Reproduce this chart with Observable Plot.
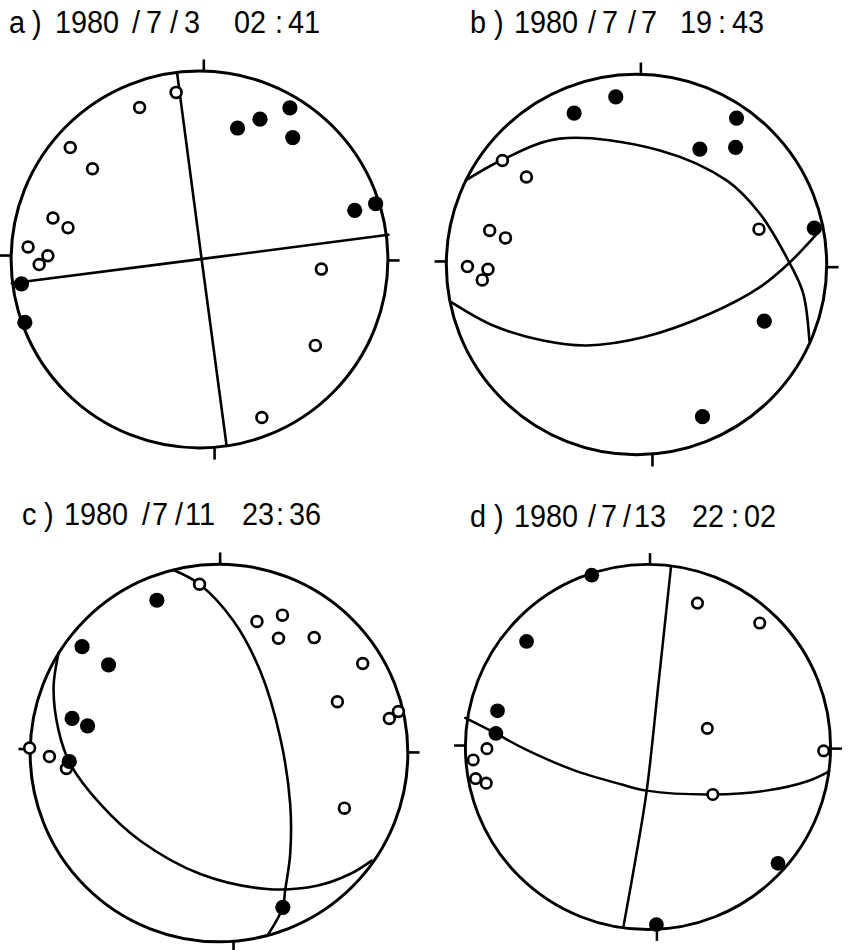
<!DOCTYPE html>
<html>
<head>
<meta charset="utf-8">
<script src="https://cdn.jsdelivr.net/npm/d3@7"></script>
<script src="https://cdn.jsdelivr.net/npm/@observablehq/plot@0.6"></script>
<style>
  html, body { margin: 0; padding: 0; background: #fff; }
  #page { position: relative; width: 852px; height: 950px; overflow: hidden; background: #fff; }
  .panel { position: absolute; }
  .title { position: absolute; left: 0; top: 0; width: 852px; height: 40px; font-family: "Liberation Sans", Arial, sans-serif; font-size: 31px; line-height: 31px; color: #000; }
  .title span { position: absolute; top: 0; white-space: pre; transform: scaleX(0.93); transform-origin: 0 0; }
</style>
</head>
<body>
<div id="page"></div>
<script>
// ---------- data (normalized to unit focal sphere; x east, y north) ----------
// Panel a) 1980/7/3 02:41
const aOpen = [[-0.124,0.887],[-0.318,0.807],[-0.686,0.594],[-0.568,0.482],[-0.778,0.220],[-0.698,0.169],[-0.910,0.066],[-0.805,0.020],[-0.851,-0.027],[0.647,-0.051],[0.615,-0.456],[0.331,-0.839]];
const aFilled = [[0.202,0.698],[0.321,0.745],[0.480,0.805],[0.495,0.647],[0.824,0.261],[0.935,0.296],[-0.945,-0.129],[-0.927,-0.334]];
const aPlane1 = [[-0.119,0.991],[0.011,0.004],[0.144,-0.989]];
const aPlane2 = [[-0.996,-0.126],[0.005,0.002],[1.003,0.131]];

// Panel b) 1980/7/7 19:43
const bOpen = [[-0.705,0.547],[-0.579,0.460],[-0.772,0.179],[-0.689,0.140],[-0.889,-0.011],[-0.781,-0.025],[-0.811,-0.081],[0.644,0.186]];
const bFilled = [[-0.328,0.796],[-0.109,0.881],[0.526,0.770],[0.333,0.607],[0.521,0.616],[0.935,0.191],[0.672,-0.298],[0.347,-0.800]];
const bPlane1 = [[-0.898,0.442],[-0.705,0.551],[-0.404,0.662],[0.123,0.600],[0.474,0.442],[0.649,0.267],[0.807,0.004],[0.877,-0.154],[0.909,-0.400]];
const bPlane2 = [[-0.974,-0.198],[-0.754,-0.321],[-0.491,-0.400],[-0.263,-0.426],[0.035,-0.383],[0.386,-0.259],[0.649,-0.119],[0.807,0.012],[0.965,0.179]];

// Panel c) 1980/7/11 23:36
const cOpen = [[-0.103,0.894],[0.201,0.696],[0.336,0.730],[0.315,0.608],[0.504,0.611],[0.761,0.474],[0.627,0.271],[0.902,0.183],[0.950,0.220],[-1.003,0.026],[-0.898,-0.019],[-0.808,-0.082],[0.664,-0.292]];
const cFilled = [[-0.329,0.809],[-0.725,0.563],[-0.585,0.467],[-0.778,0.183],[-0.696,0.144],[-0.793,-0.045],[0.338,-0.817]];
const cPlane1 = [[-0.241,0.969],[-0.103,0.894],[0.077,0.699],[0.218,0.435],[0.324,0.082],[0.377,-0.270],[0.377,-0.535],[0.350,-0.729],[0.338,-0.817],[0.262,-0.958]];
const cPlane2 = [[-0.849,0.532],[-0.876,0.347],[-0.849,0.117],[-0.787,-0.059],[-0.629,-0.270],[-0.417,-0.465],[-0.099,-0.641],[0.253,-0.720],[0.518,-0.703],[0.694,-0.641],[0.809,-0.570]];

// Panel d) 1980/7/13 22:02
const dOpen = [[0.271,0.788],[0.612,0.679],[0.325,0.102],[0.962,-0.021],[0.355,-0.260],[-0.882,-0.009],[-0.957,-0.071],[-0.944,-0.173],[-0.886,-0.198]];
const dFilled = [[-0.308,0.941],[-0.665,0.578],[-0.824,0.198],[-0.833,0.074],[0.712,-0.637],[0.046,-0.973]];
const dPlane1 = [[0.126,0.987],[0.060,0.371],[-0.007,-0.239],[-0.069,-0.619],[-0.134,-0.981]];
const dPlane2 = [[-1.001,0.159],[-0.833,0.074],[-0.679,-0.009],[-0.414,-0.124],[-0.149,-0.204],[-0.007,-0.239],[0.355,-0.260],[0.647,-0.239],[0.877,-0.186],[0.992,-0.133]];

// tick offsets along the rim (N, S, W, E)
const tickOffsets = {a:[0.023,0.080,0.021,-0.005], b:[0.023,0.084,0.016,-0.014], c:[0.006,0.077,0.021,0.003], d:[0.011,0.049,0.008,-0.009]};

// titles: text pieces
const titlePieces = {
  a: ["a", ")", "1980", "/", "7", "/", "3", "02", ":", "41"],
  b: ["b", ")", "1980", "/", "7", "/", "7", "19", ":", "43"],
  c: ["c", ")", "1980", "/", "7", "/", "11", "23", ":", "36"],
  d: ["d", ")", "1980", "/", "7", "/", "13", "22", ":", "02"]
};

// ---------- layout (pixels) ----------
const layout = {
  a: {cx:199, cy:259, R:188.5, tx:[9,32,55,132,146,170,184,234,275,288], ttop:7},
  b: {cx:636, cy:264, R:190, tx:[470,494,514,588,602,628,641,680,718,732], ttop:7},
  c: {cx:218.8, cy:752.2, R:189, tx:[22,44,64,142,152,175,185,242,276,289], ttop:499},
  d: {cx:654, cy:753.3, R:188.5, tx:[470,494,514,588,601,623,634,692,731,744], ttop:501}
};

const series = {
  a: {open:aOpen, filled:aFilled, planes:[aPlane1, aPlane2], curve:"linear"},
  b: {open:bOpen, filled:bFilled, planes:[bPlane1, bPlane2], curve:"catmull-rom"},
  c: {open:cOpen, filled:cFilled, planes:[cPlane1, cPlane2], curve:"catmull-rom"},
  d: {open:dOpen, filled:dFilled, planes:[dPlane1, dPlane2], curve:"catmull-rom"}
};

const page = document.getElementById("page");
const half = 1.12;

for (const key of ["a","b","c","d"]) {
  const L = layout[key], S = series[key];
  const size = Math.round(2 * half * L.R);
  const pxPerUnit = size / (2 * half);
  const off = tickOffsets[key];
  const tlen = 0.062;
  const ticks = [
    {x1:off[0], y1:1, x2:off[0], y2:1+tlen},
    {x1:off[1], y1:-1, x2:off[1], y2:-1-tlen},
    {x1:-1, y1:off[2], x2:-1-tlen, y2:off[2]},
    {x1:1, y1:off[3], x2:1+tlen, y2:off[3]}
  ];
  const svg = Plot.plot({
    width: size, height: size, margin: 0,
    x: {domain: [-half, half], axis: null},
    y: {domain: [-half, half], axis: null},
    r: {type: "linear", domain: [0, 1], range: [0, pxPerUnit]},
    style: {background: "transparent", overflow: "visible"},
    marks: [
      Plot.dot([{x:0, y:0, rho:1}], {x:"x", y:"y", r:"rho", stroke:"#000", strokeWidth:3, fill:"none"}),
      Plot.link(ticks, {x1:"x1", y1:"y1", x2:"x2", y2:"y2", stroke:"#000", strokeWidth:2.6}),
      ...S.planes.map(p => Plot.line(p, {x:d=>d[0], y:d=>d[1], curve:S.curve, stroke:"#000", strokeWidth:2.6})),
      Plot.dot(S.open, {x:d=>d[0], y:d=>d[1], r:5.4, stroke:"#000", strokeWidth:2.7, fill:"#fff"}),
      Plot.dot(S.filled, {x:d=>d[0], y:d=>d[1], r:7.6, fill:"#000", stroke:"none"})
    ]
  });
  const div = document.createElement("div");
  div.className = "panel";
  div.style.left = (L.cx - size/2) + "px";
  div.style.top = (L.cy - size/2) + "px";
  div.appendChild(svg);
  page.appendChild(div);

  const t = document.createElement("div");
  t.className = "title";
  t.style.top = L.ttop + "px";
  titlePieces[key].forEach((txt, i) => {
    const s = document.createElement("span");
    s.textContent = txt;
    s.style.left = L.tx[i] + "px";
    t.appendChild(s);
  });
  page.appendChild(t);
}
</script>
</body>
</html>
